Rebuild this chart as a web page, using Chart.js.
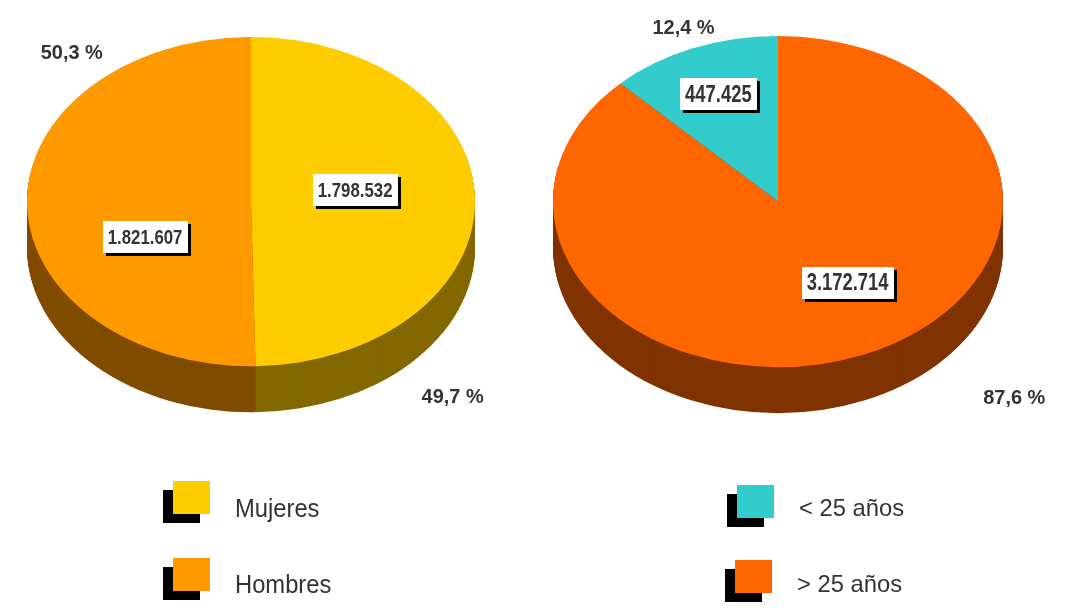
<!DOCTYPE html>
<html>
<head>
<meta charset="utf-8">
<script src="https://cdn.jsdelivr.net/npm/chart.js@4/dist/chart.umd.min.js"></script>
<style>
  html, body { margin:0; padding:0; background:#ffffff; }
  #wrap { position:relative; width:1066px; height:608px; overflow:hidden; background:#fff; }
  .pane { position:absolute; top:0; width:533px; height:490px; }
  .lg { position:absolute; font-family:"Liberation Sans",Arial,sans-serif; color:#333; line-height:1; white-space:nowrap; transform-origin:left center; }
  .sq { position:absolute; width:37px; height:33px; }
</style>
</head>
<body>
<div id="wrap">
  <div class="pane" style="left:0"><canvas id="c1"></canvas></div>
  <div class="pane" style="left:533px"><canvas id="c2"></canvas></div>
</div>
<script>
// ---- data ----
const sexLabels = ['Mujeres', 'Hombres'];
const sexValues = [1798532, 1821607];
const sexColors = ['#FFCC00', '#FF9900'];
const sexSideColors = ['#836800', '#804C00'];

const ageLabels = ['< 25 años', '> 25 años'];
const ageValues = [447425, 3172714];
const ageColors = ['#33CCCC', '#FF6600'];
const ageSideColors = ['#1A6666', '#803300'];

function fmtThousands(v) { return String(v).replace(/\B(?=(\d{3})+(?!\d))/g, '.'); }
function fmtPct(v, total) { return (v / total * 100).toFixed(1).replace('.', ',') + ' %'; }

function condensedText(ctx, txt, x, y, sx) {
  ctx.save();
  ctx.translate(x, y);
  ctx.scale(sx, 1);
  ctx.fillText(txt, 0, 0);
  ctx.restore();
}

const pie3d = {
  id: 'pie3d',
  beforeDatasetsDraw(chart, args, o) {
    const arcs = chart.getDatasetMeta(0).data;
    const ctx = chart.ctx;
    const a0 = arcs[0];
    const cx = a0.x, cy = a0.y, r = a0.outerRadius, k = o.k;
    const ecy = chart.chartArea.top + r * k;
    chart.$pie = { cx, cy, r, k, ecy };
    for (let d = o.depth; d >= 1; d--) {
      ctx.save();
      ctx.translate(cx, ecy + d);
      ctx.scale(1, k);
      ctx.translate(-cx, -cy);
      arcs.forEach((arc, i) => {
        ctx.fillStyle = o.sideColors[i];
        ctx.beginPath();
        ctx.moveTo(cx, cy);
        ctx.arc(cx, cy, r, arc.startAngle, arc.endAngle);
        ctx.closePath();
        ctx.fill();
      });
      ctx.restore();
    }
    ctx.save();
    ctx.translate(cx, ecy);
    ctx.scale(1, k);
    ctx.translate(-cx, -cy);
  },
  afterDatasetsDraw(chart, args, o) {
    const ctx = chart.ctx;
    ctx.restore();
    const { cx, r, k, ecy } = chart.$pie;
    const arcs = chart.getDatasetMeta(0).data;
    const ds = chart.data.datasets[0];
    const total = ds.data.reduce((a, b) => a + b, 0);
    ctx.textAlign = 'center';
    ctx.textBaseline = 'middle';
    arcs.forEach((arc, i) => {
      // value box
      const mid = (arc.startAngle + arc.endAngle) / 2 + o.labelPos[i][1] * Math.PI / 180;
      const f = o.labelPos[i][0];
      const x = cx + Math.cos(mid) * r * f;
      const y = ecy + Math.sin(mid) * r * f * k;
      ctx.font = 'bold ' + o.valueFont + 'px "Liberation Sans",Arial,sans-serif';
      const txt = fmtThousands(ds.data[i]);
      const w = Math.round(ctx.measureText(txt).width * 0.8 + 10), h = 32;
      const bx = Math.round(x - w / 2), by = Math.round(y - h / 2);
      ctx.fillStyle = '#000';
      ctx.fillRect(bx + 3, by + 3, w, h);
      ctx.fillStyle = '#fff';
      ctx.fillRect(bx, by, w, h);
      ctx.fillStyle = '#333';
      condensedText(ctx, txt, x, y + 1, 0.8);
      // percentage
      const p = o.pctPos[i];
      ctx.font = 'bold 21px "Liberation Sans",Arial,sans-serif';
      ctx.fillStyle = '#333';
      condensedText(ctx, fmtPct(ds.data[i], total), cx + p[0] * r, ecy + p[1] * r * k, 0.95);
    });
  }
};

function makePie(id, labels, values, colors, sideColors, rotation, padding, o) {
  return new Chart(document.getElementById(id), {
    type: 'pie',
    data: { labels, datasets: [{ data: values, backgroundColor: colors, borderWidth: 0, offset: 0, hoverOffset: 0, clip: false }] },
    options: {
      responsive: true, maintainAspectRatio: false, animation: false, events: [],
      rotation: rotation,
      layout: { padding },
      plugins: {
        legend: { display: false }, tooltip: { enabled: false },
        pie3d: Object.assign({ sideColors }, o)
      }
    },
    plugins: [pie3d]
  });
}

makePie('c1', sexLabels, sexValues, sexColors, sexSideColors, 0,
  { left: 27, right: 58, top: 37, bottom: 5 },
  { k: 0.735, depth: 46, valueFont: 21,
    labelPos: [[0.47, -8], [0.52, -24]],
    pctPos: [[0.90, 1.19], [-0.80, -0.90]] });

const ageTotal = ageValues.reduce((a, b) => a + b, 0);
makePie('c2', ageLabels, ageValues, ageColors, ageSideColors, -360 * ageValues[0] / ageTotal,
  { left: 20, right: 63, top: 36, bottom: 4 },
  { k: 0.736, depth: 46, valueFont: 23,
    labelPos: [[0.70, 0], [0.58, -10]],
    pctPos: [[-0.42, -1.05], [1.05, 1.19]] });

// ---- legends (HTML) ----
const wrap = document.getElementById('wrap');
function legendItem(x, y, color, label, textY, size, sx) {
  const b = document.createElement('div'); b.className = 'sq';
  b.style.left = (x - 10) + 'px'; b.style.top = (y + 9) + 'px'; b.style.background = '#000';
  const s = document.createElement('div'); s.className = 'sq';
  s.style.left = x + 'px'; s.style.top = y + 'px'; s.style.background = color;
  const t = document.createElement('div'); t.className = 'lg';
  t.textContent = label;
  t.style.fontSize = size + 'px';
  t.style.left = (x + 62) + 'px'; t.style.top = textY + 'px';
  t.style.transform = 'translateY(-50%) scaleX(' + sx + ')';
  wrap.appendChild(b); wrap.appendChild(s); wrap.appendChild(t);
}
legendItem(173, 481, sexColors[0], sexLabels[0], 508, 25, 0.95);
legendItem(173, 558, sexColors[1], sexLabels[1], 584, 25, 0.95);
legendItem(737, 485, ageColors[0], ageLabels[0], 508, 24, 0.99);
legendItem(735, 560, ageColors[1], ageLabels[1], 584, 24, 0.99);
</script>
</body>
</html>
